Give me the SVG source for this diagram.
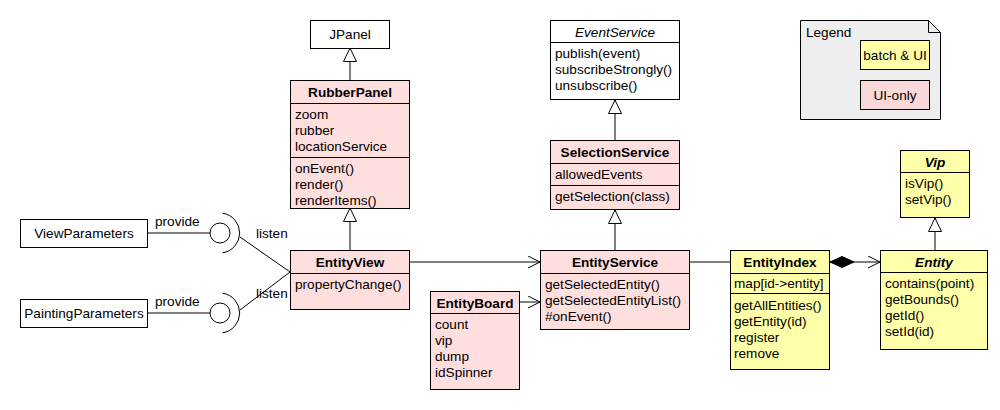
<svg xmlns="http://www.w3.org/2000/svg" width="1000" height="410" viewBox="0 0 1000 410">
<style>
text{font-family:"Liberation Sans",Arial,sans-serif;font-size:13.6px;fill:#000}
.t{text-anchor:middle}
.b{font-weight:bold}
.i{font-style:italic}
.box{stroke:#000;stroke-width:1}
.w{fill:#fff}
.p{fill:#ffdede}
.y{fill:#ffffaa}
.ln{stroke:#000;stroke-width:1;fill:none}
</style>
<defs>
<marker id="tri" markerWidth="16" markerHeight="16" refX="14" refY="7" orient="auto" markerUnits="userSpaceOnUse"><path d="M0.5,0.5 L14,7 L0.5,13.5 Z" fill="#fff" stroke="#000"/></marker>
<marker id="open" markerWidth="16" markerHeight="14" refX="13" refY="6.5" orient="auto" markerUnits="userSpaceOnUse"><path d="M1,0.5 L13,6.5 L1,12.5" fill="none" stroke="#000"/></marker>
<marker id="dia" markerWidth="26" markerHeight="14" refX="0" refY="7" orient="auto" markerUnits="userSpaceOnUse"><path d="M0,7 L12,1.5 L24,7 L12,12.5 Z" fill="#000" stroke="#000"/></marker>
</defs>
<rect width="1000" height="410" fill="#fff"/>

<g id="connectors">
<line class="ln" x1="350" y1="80" x2="350" y2="48" marker-end="url(#tri)"/>
<line class="ln" x1="350" y1="250" x2="350" y2="208" marker-end="url(#tri)"/>
<line class="ln" x1="615" y1="140" x2="615" y2="100" marker-end="url(#tri)"/>
<line class="ln" x1="615" y1="250" x2="615" y2="210" marker-end="url(#tri)"/>
<line class="ln" x1="935" y1="250" x2="935" y2="218" marker-end="url(#tri)"/>
<line class="ln" x1="410" y1="262" x2="540" y2="262" marker-end="url(#open)"/>
<line class="ln" x1="519" y1="302" x2="540" y2="302" marker-end="url(#open)"/>
<line class="ln" x1="690" y1="262" x2="730" y2="262"/>
<line class="ln" x1="830" y1="262" x2="880" y2="262" marker-start="url(#dia)" marker-end="url(#open)"/>
<line class="ln" x1="148" y1="233" x2="210" y2="233"/>
<line class="ln" x1="148" y1="313" x2="210" y2="313"/>
<circle class="ln" cx="220" cy="233" r="10"/>
<circle class="ln" cx="220" cy="313" r="10"/>
<path class="ln" d="M222.5,213.2 A20,20 0 0 1 222.5,252.8"/>
<path class="ln" d="M222.5,293.2 A20,20 0 0 1 222.5,332.8"/>
<line class="ln" x1="240" y1="237" x2="290" y2="272"/>
<line class="ln" x1="240" y1="310" x2="290" y2="272"/>
<text x="155" y="226">provide</text>
<text x="155" y="306">provide</text>
<text x="256" y="238">listen</text>
<text x="256" y="298">listen</text>
</g>

<g id="JPanel">
<rect class="box w" x="310.5" y="20.5" width="79" height="28"/>
<text class="t" x="350" y="39">JPanel</text>
</g>

<g id="RubberPanel">
<rect class="box p" x="290.5" y="80.5" width="119" height="128"/>
<line class="ln" x1="290" y1="103.5" x2="410" y2="103.5"/>
<line class="ln" x1="290" y1="157.5" x2="410" y2="157.5"/>
<text class="t b" x="350" y="97">RubberPanel</text>
<text x="295" y="119">zoom</text>
<text x="295" y="135">rubber</text>
<text x="295" y="151">locationService</text>
<text x="295" y="173">onEvent()</text>
<text x="295" y="189">render()</text>
<text x="295" y="205">renderItems()</text>
</g>

<g id="EntityView">
<rect class="box p" x="290.5" y="250.5" width="119" height="59"/>
<line class="ln" x1="290" y1="273.5" x2="410" y2="273.5"/>
<text class="t b" x="350" y="267">EntityView</text>
<text x="295" y="289">propertyChange()</text>
</g>

<g id="ViewParameters">
<rect class="box w" x="20.5" y="219.5" width="127" height="28"/>
<text class="t" x="84" y="238">ViewParameters</text>
</g>

<g id="PaintingParameters">
<rect class="box w" x="20.5" y="299.5" width="127" height="28"/>
<text class="t" x="84" y="318">PaintingParameters</text>
</g>

<g id="EntityBoard">
<rect class="box p" x="430.5" y="291.5" width="89" height="98"/>
<line class="ln" x1="430" y1="313.5" x2="520" y2="313.5"/>
<text class="t b" x="475" y="308">EntityBoard</text>
<text x="435" y="329">count</text>
<text x="435" y="345">vip</text>
<text x="435" y="361">dump</text>
<text x="435" y="377">idSpinner</text>
</g>

<g id="EventService">
<rect class="box w" x="550.5" y="20.5" width="129" height="79"/>
<line class="ln" x1="550" y1="42.5" x2="680" y2="42.5"/>
<text class="t i" x="615" y="37">EventService</text>
<text x="555" y="58">publish(event)</text>
<text x="555" y="74">subscribeStrongly()</text>
<text x="555" y="90">unsubscribe()</text>
</g>

<g id="SelectionService">
<rect class="box p" x="550.5" y="140.5" width="129" height="69"/>
<line class="ln" x1="550" y1="163.5" x2="680" y2="163.5"/>
<line class="ln" x1="550" y1="185.5" x2="680" y2="185.5"/>
<text class="t b" x="615" y="157">SelectionService</text>
<text x="555" y="179">allowedEvents</text>
<text x="555" y="201">getSelection(class)</text>
</g>

<g id="EntityService">
<rect class="box p" x="540.5" y="250.5" width="149" height="79"/>
<line class="ln" x1="540" y1="273.5" x2="690" y2="273.5"/>
<text class="t b" x="615" y="267">EntityService</text>
<text x="545" y="289">getSelectedEntity()</text>
<text x="545" y="305">getSelectedEntityList()</text>
<text x="545" y="321">#onEvent()</text>
</g>

<g id="EntityIndex">
<rect class="box y" x="730.5" y="250.5" width="99" height="119"/>
<line class="ln" x1="730" y1="273.5" x2="830" y2="273.5"/>
<line class="ln" x1="730" y1="293.5" x2="830" y2="293.5"/>
<text class="t b" x="780" y="267">EntityIndex</text>
<text x="734" y="288">map[id-&gt;entity]</text>
<text x="734" y="310">getAllEntities()</text>
<text x="734" y="326">getEntity(id)</text>
<text x="734" y="342">register</text>
<text x="734" y="358">remove</text>
</g>

<g id="Entity">
<rect class="box y" x="880.5" y="250.5" width="107" height="99"/>
<line class="ln" x1="880" y1="272.5" x2="988" y2="272.5"/>
<text class="t b i" x="934" y="267">Entity</text>
<text x="885" y="288">contains(point)</text>
<text x="885" y="304">getBounds()</text>
<text x="885" y="320">getId()</text>
<text x="885" y="336">setId(id)</text>
</g>

<g id="Vip">
<rect class="box y" x="900.5" y="150.5" width="69" height="67"/>
<line class="ln" x1="900" y1="172.5" x2="970" y2="172.5"/>
<text class="t b i" x="935" y="167">Vip</text>
<text x="905" y="188">isVip()</text>
<text x="905" y="204">setVip()</text>
</g>

<g id="Legend">
<path d="M800.5,20.5 H928.5 L940.5,32.5 V119.5 H800.5 Z" fill="#eeeeee" stroke="#000"/>
<path class="ln" d="M928.5,20.5 V32.5 H940.5"/>
<text x="806" y="37">Legend</text>
<rect class="box y" x="860.5" y="40.5" width="69" height="29"/>
<text class="t" x="895" y="60">batch &amp; UI</text>
<rect class="box" x="860.5" y="80.5" width="69" height="29" fill="#f8d8d8"/>
<text class="t" x="895" y="100">UI-only</text>
</g>
</svg>
